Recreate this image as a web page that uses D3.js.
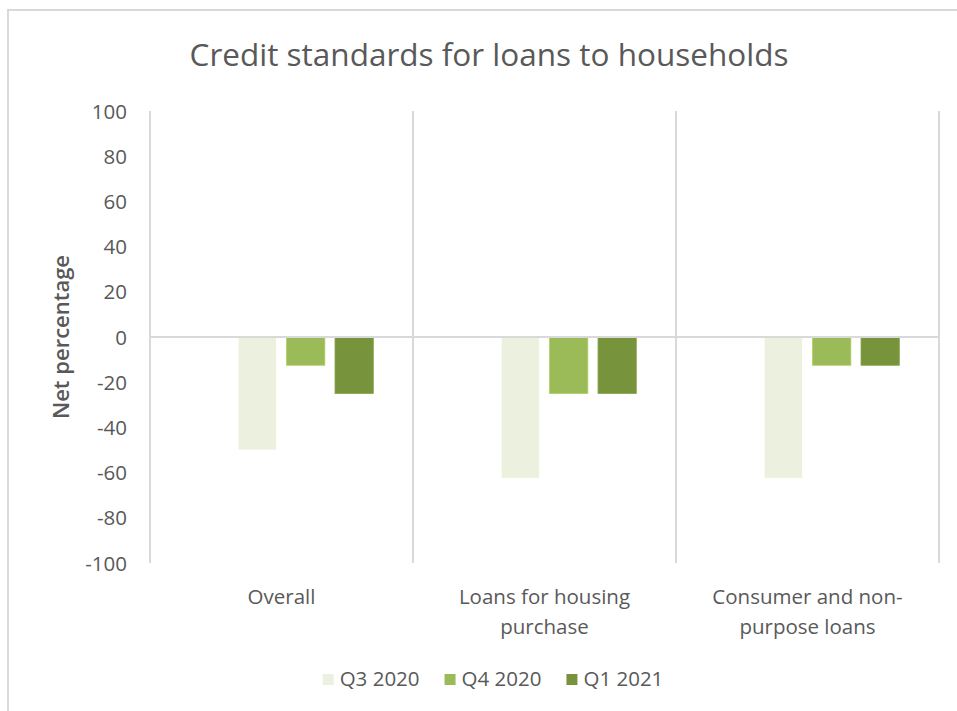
<!DOCTYPE html>
<html>
<head>
<meta charset="utf-8">
<script src="https://cdn.jsdelivr.net/npm/d3@7"></script>
<style>
  html, body { margin: 0; padding: 0; background: #fff; }
  svg { display: block; }
  text { font-family: "Open Sans", "Noto Sans", sans-serif; fill: #595959; }
</style>
</head>
<body>
<svg id="chart" width="957" height="711"></svg>
<script>
// Chart data
const title = "Credit standards for loans to households";
const yAxisTitle = "Net percentage";
const categories = [["Overall"], ["Loans for housing", "purchase"], ["Consumer and non-", "purpose loans"]];
const seriesNames = ["Q3 2020", "Q4 2020", "Q1 2021"];
const q3_2020 = [-50, -62.5, -62.5];
const q4_2020 = [-12.5, -25, -12.5];
const q1_2021 = [-25, -25, -12.5];
const seriesColors = ["#ebf1de", "#9bbb59", "#77933c"];
const yTicks = [100, 80, 60, 40, 20, 0, -20, -40, -60, -80, -100];

const seriesValues = [q3_2020, q4_2020, q1_2021];
const catKeys = categories.map(c => c.join(" "));

const svg = d3.select("#chart");
const W = 957, H = 711;
const plot = { left: 150, right: 939, top: 111, bottom: 563 };
const centerX = 489;

// Outer chart frame
svg.append("rect")
  .attr("x", 8).attr("y", 10)
  .attr("width", W).attr("height", H)
  .attr("fill", "#fff")
  .attr("stroke", "#d9d9d9").attr("stroke-width", 2);

// Scales
const x0 = d3.scaleBand().domain(catKeys).range([plot.left, plot.right]).padding(0);
// Four slots per category: the first slot stays empty, bars fill the remaining three
const slots = ["_empty", ...seriesNames];
const x1 = d3.scaleBand().domain(slots).range([0, x0.bandwidth()])
  .paddingInner(0.21).paddingOuter(0.82);
const y = d3.scaleLinear().domain([-100, 100]).range([plot.bottom, plot.top]);

// Category separators (vertical gridlines at band edges)
const edges = catKeys.map(k => x0(k)).concat([plot.right]);
svg.append("g").selectAll("line").data(edges).join("line")
  .attr("x1", d => d).attr("x2", d => d)
  .attr("y1", plot.top).attr("y2", plot.bottom)
  .attr("stroke", "#d9d9d9").attr("stroke-width", 2);

// Bars
const barData = [];
seriesNames.forEach((s, si) => {
  catKeys.forEach((k, ci) => {
    barData.push({ series: s, si, cat: k, value: seriesValues[si][ci] });
  });
});
svg.append("g").selectAll("rect").data(barData).join("rect")
  .attr("x", d => x0(d.cat) + x1(d.series))
  .attr("width", x1.bandwidth())
  .attr("y", d => y(Math.max(0, d.value)))
  .attr("height", d => Math.abs(y(d.value) - y(0)))
  .attr("fill", d => seriesColors[d.si])
  .attr("stroke", d => d3.color(seriesColors[d.si]).brighter(0.3))
  .attr("stroke-width", 0.8);

// Zero line
svg.append("line")
  .attr("x1", plot.left).attr("x2", plot.right)
  .attr("y1", y(0)).attr("y2", y(0))
  .attr("stroke", "#d9d9d9").attr("stroke-width", 2);

// Y axis tick labels
const yAxis = d3.axisLeft(y).tickValues(yTicks).tickFormat(d => String(d))
  .tickSize(0).tickPadding(23);
const yg = svg.append("g").attr("transform", `translate(${plot.left},0)`).call(yAxis);
yg.select(".domain").remove();
yg.selectAll("text")
  .style("font-size", "20.5px")
  .style("font-family", "'Open Sans', sans-serif")
  .attr("fill", "#595959").attr("dy", "0.35em");

// Y axis title
svg.append("text")
  .attr("transform", `translate(69,${(plot.top + plot.bottom) / 2}) rotate(-90)`)
  .attr("text-anchor", "middle")
  .style("font-size", "22px")
  .style("font-weight", "600")
  .text(yAxisTitle);

// Category labels
const xg = svg.append("g");
categories.forEach((lines, i) => {
  const cx = x0(catKeys[i]) + x0.bandwidth() / 2;
  const t = xg.append("text")
    .attr("x", cx)
    .attr("y", 604)
    .attr("text-anchor", "middle")
    .style("font-size", "20.5px");
  lines.forEach((ln, j) => {
    t.append("tspan").attr("x", cx)
      .attr("dy", j === 0 ? 0 : 30).text(ln);
  });
});

// Title
svg.append("text")
  .attr("x", centerX).attr("y", 66)
  .attr("text-anchor", "middle")
  .style("font-size", "31.5px")
  .text(title);

// Legend
const legend = svg.append("g");
const items = legend.selectAll("g").data(seriesNames).join("g");
items.append("rect")
  .attr("width", 11).attr("height", 11)
  .attr("y", -12)
  .attr("fill", (d, i) => seriesColors[i]);
items.append("text")
  .attr("x", 17).attr("y", 0)
  .style("font-size", "20.5px")
  .text(d => d);
let cursor = 0;
items.each(function () {
  const g = d3.select(this);
  g.attr("transform", `translate(${cursor},0)`);
  cursor += 17 + g.select("text").node().getComputedTextLength() + 25;
});
const legendWidth = cursor - 25;
legend.attr("transform", `translate(${493 - legendWidth / 2},686)`);
</script>
</body>
</html>
